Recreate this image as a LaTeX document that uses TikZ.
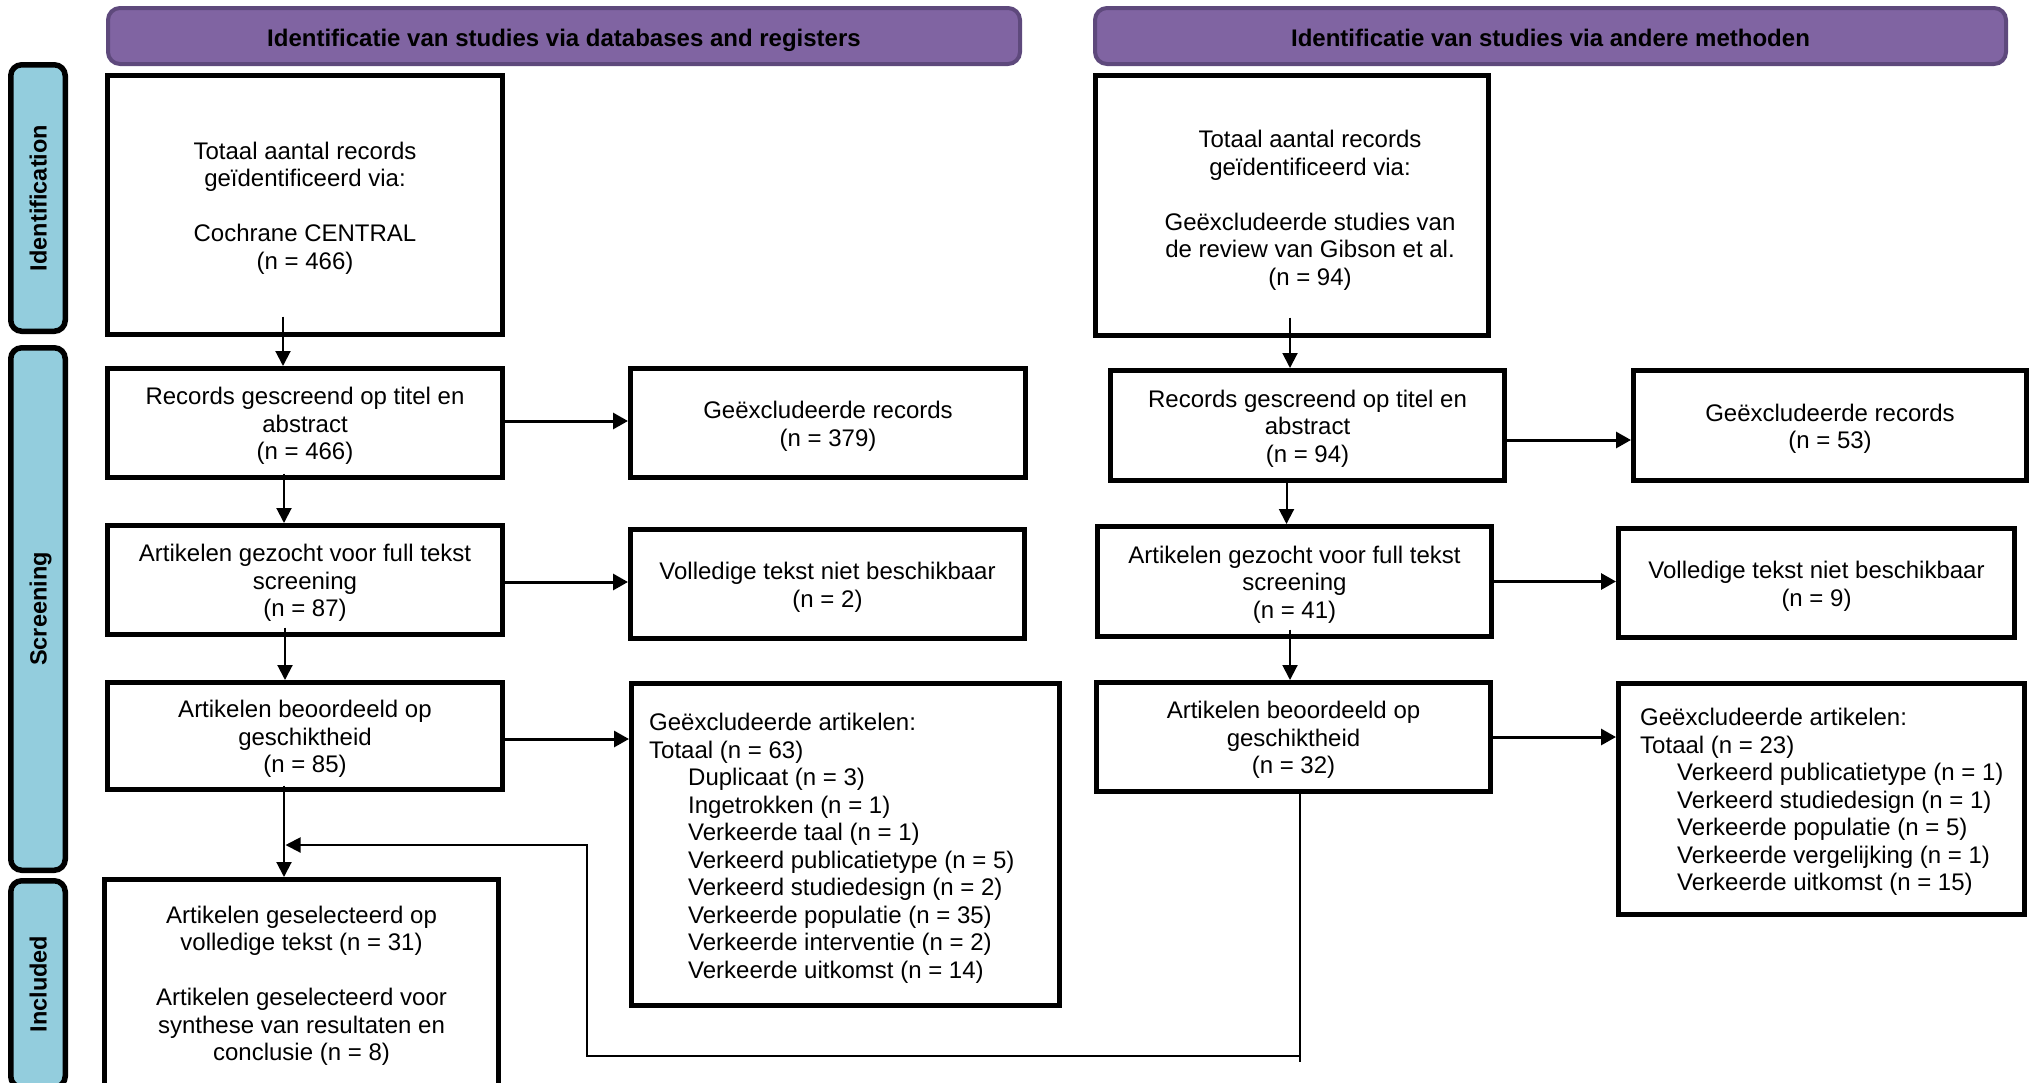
\documentclass[tikz,border=0pt]{standalone}
\usepackage{fontspec}
\setmainfont{Liberation Sans}
\usetikzlibrary{arrows.meta}
\definecolor{hdrfill}{RGB}{128,100,162}
\definecolor{hdrline}{RGB}{94,73,124}
\definecolor{barfill}{RGB}{147,205,221}
\newcommand\tp{\rule{0pt}{23.5pt}}
\begin{document}
\begin{tikzpicture}[x=1pt,y=-1pt,
  box/.style={draw=black, line width=5pt, fill=white, inner sep=0pt, align=center, font=\fontsize{24}{27.5}\selectfont},
  txt/.style={inner sep=0pt, align=left, font=\fontsize{24}{27.5}\selectfont},
  ctxt/.style={inner sep=0pt, align=center, font=\fontsize{24}{27.5}\selectfont},
  hdr/.style={draw=hdrline, fill=hdrfill, line width=4pt, rounded corners=12pt, inner sep=0pt, text height=21.4pt, text depth=0pt, font=\bfseries\fontsize{24}{27.5}\selectfont},
  sidebar/.style={draw=black, fill=barfill, line width=5.5pt, rounded corners=11pt, inner sep=0pt, rotate=90, minimum height=54.5pt, text height=17.1pt, text depth=0pt, font=\bfseries\fontsize{23.5}{27}\selectfont},
  harrow/.style={line width=3pt, -{Triangle[length=15pt,width=16pt]}},
  varrow/.style={line width=2pt, -{Triangle[length=15pt,width=15pt]}},
  fline/.style={line width=2pt},
]
\useasboundingbox (0,0) rectangle (2031,1082);
\clip (0,0) rectangle (2031,1082);

% headers
\node[hdr, minimum width=912pt, minimum height=56pt] (HL) at (564,36) {Identificatie van studies via databases and registers};
\node[hdr, minimum width=911pt, minimum height=56pt] (HR) at (1550.5,36) {Identificatie van studies via andere methoden};

% side bars
\node[sidebar, minimum width=266.5pt] (B1) at (38,198) {Identification};
\node[sidebar, minimum width=522.5pt] (B2) at (38,609) {Screening};
\node[sidebar, minimum width=206.5pt] (B3) at (38,984) {Included};

% left column
\node[box, minimum width=395pt, minimum height=259pt] (L1) at (305,205) {\tp Totaal aantal records\\geïdentificeerd via:\\[27.5pt]Cochrane CENTRAL\\(n = 466)};
\node[box, minimum width=395pt, minimum height=109pt] (L2) at (305,423) {\tp Records gescreend op titel en\\abstract\\(n = 466)};
\node[box, minimum width=395pt, minimum height=109pt] (L3) at (305,580) {\tp Artikelen gezocht voor full tekst\\screening\\(n = 87)};
\node[box, minimum width=395pt, minimum height=107pt] (L4) at (305,736) {\tp Artikelen beoordeeld op\\geschiktheid\\(n = 85)};
\node[box, minimum width=394pt, minimum height=206pt] (L5) at (301.5,982.5) {\tp Artikelen geselecteerd op\\volledige tekst (n = 31)\\[27.5pt]Artikelen geselecteerd voor\\synthese van resultaten en\\conclusie (n = 8)};

% middle column
\node[box, minimum width=395pt, minimum height=109pt] (M1) at (828,423) {\tp Geëxcludeerde records\\(n = 379)};
\node[box, minimum width=394pt, minimum height=109pt] (M2) at (827.5,584) {\tp Volledige tekst niet beschikbaar\\(n = 2)};
\node[box, minimum width=428pt, minimum height=322pt] (M3) at (845.5,844.5) {};
\node[txt, anchor=west] (M3t) at (649,848.5) {Geëxcludeerde artikelen:\\Totaal (n = 63)\\
\hspace*{39pt}Duplicaat (n = 3)\\
\hspace*{39pt}Ingetrokken (n = 1)\\
\hspace*{39pt}Verkeerde taal (n = 1)\\
\hspace*{39pt}Verkeerd publicatietype (n = 5)\\
\hspace*{39pt}Verkeerd studiedesign (n = 2)\\
\hspace*{39pt}Verkeerde populatie (n = 35)\\
\hspace*{39pt}Verkeerde interventie (n = 2)\\
\hspace*{39pt}Verkeerde uitkomst (n = 14)};

% right column
\node[box, minimum width=393pt, minimum height=260pt] (R1) at (1292,205.5) {};
\node[ctxt] (R1t) at (1310,210.5) {Totaal aantal records\\geïdentificeerd via:\\[27.5pt]Geëxcludeerde studies van\\de review van Gibson et al.\\(n = 94)};
\node[box, minimum width=394pt, minimum height=110pt] (R2) at (1307.5,425.5) {\tp Records gescreend op titel en\\abstract\\(n = 94)};
\node[box, minimum width=394pt, minimum height=110pt] (R3) at (1294.5,581.5) {\tp Artikelen gezocht voor full tekst\\screening\\(n = 41)};
\node[box, minimum width=394pt, minimum height=109pt] (R4) at (1293.5,737) {\tp Artikelen beoordeeld op\\geschiktheid\\(n = 32)};

% far right column
\node[box, minimum width=393pt, minimum height=110pt] (F1) at (1830,425.5) {\tp Geëxcludeerde records\\(n = 53)};
\node[box, minimum width=396pt, minimum height=109pt] (F2) at (1816.5,583) {\tp Volledige tekst niet beschikbaar\\(n = 9)};
\node[box, minimum width=406pt, minimum height=231pt] (F3) at (1821.5,799) {};
\node[txt, anchor=west] (F3t) at (1640,802) {Geëxcludeerde artikelen:\\Totaal (n = 23)\\
\hspace*{37pt}Verkeerd publicatietype (n = 1)\\
\hspace*{37pt}Verkeerd studiedesign (n = 1)\\
\hspace*{37pt}Verkeerde populatie (n = 5)\\
\hspace*{37pt}Verkeerde vergelijking (n = 1)\\
\hspace*{37pt}Verkeerde uitkomst (n = 15)};

% vertical connectors, left
\coordinate (v1) at ([xshift=-22pt,yshift=20.5pt]L1.south);
\draw[varrow] (v1) -- (v1 |- L2.north);
\coordinate (v2) at ([xshift=-21pt,yshift=6.5pt]L2.south);
\draw[varrow] (v2) -- (v2 |- L3.north);
\coordinate (v3) at ([xshift=-20pt,yshift=9.5pt]L3.south);
\draw[varrow] (v3) -- (v3 |- L4.north);
\coordinate (v4) at ([xshift=-21pt,yshift=6.5pt]L4.south);
\draw[varrow] (v4) -- (v4 |- L5.north);

% vertical connectors, right
\coordinate (w1) at ([xshift=-2pt,yshift=20.5pt]R1.south);
\draw[varrow] (w1) -- (w1 |- R2.north);
\coordinate (w2) at ([xshift=-21pt]R2.south);
\draw[varrow] (w2) -- (w2 |- R3.north);
\coordinate (w3) at ([xshift=-4.5pt,yshift=9.5pt]R3.south);
\draw[varrow] (w3) -- (w3 |- R4.north);

% horizontal connectors
\coordinate (h1) at ([yshift=2pt]L2.east);
\draw[harrow] (h1) -- (h1 -| M1.west);
\coordinate (h2) at ([yshift=-2pt]L3.east);
\draw[harrow] (h2) -- (h2 -| M2.west);
\coordinate (h3) at ([yshift=-3pt]L4.east);
\draw[harrow] (h3) -- (h3 -| M3.west);
\coordinate (h4) at ([yshift=-14.5pt]R2.east);
\draw[harrow] (h4) -- (h4 -| F1.west);
\coordinate (h5) at (R3.east);
\draw[harrow] (h5) -- (h5 -| F2.west);
\coordinate (h6) at (R4.east);
\draw[harrow] (h6) -- (h6 -| F3.west);

% feedback connector from R4 to the left included path
\coordinate (fbS) at ([xshift=6.5pt,yshift=3.5pt]R4.south);
\coordinate (fbLow) at (fbS |- 0,1062);
\coordinate (fbA) at (fbS |- 0,1056);
\coordinate (fbB) at (587,1056);
\coordinate (fbC) at (587,845);
\coordinate (join) at (v4 |- fbC);
\draw[fline] (fbS) -- (fbLow);
\draw[fline, -{Triangle[length=15pt,width=15pt]}] (fbA) -- (fbB) -- (fbC) -- ([xshift=1.5pt]join);
\end{tikzpicture}
\end{document}
